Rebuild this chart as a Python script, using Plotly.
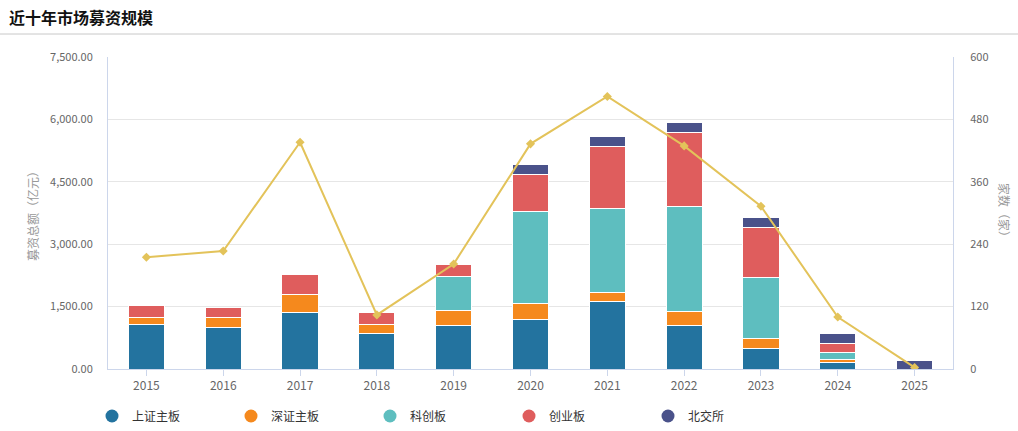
import plotly.graph_objects as go

years = ["2015", "2016", "2017", "2018", "2019", "2020", "2021", "2022", "2023", "2024", "2025"]
sh_main = [1075, 1000, 1360, 860, 1050, 1194, 1627, 1050, 497, 151, None]
sz_main = [168, 240, 420, 215, 360, 385, 224, 344, 241, 82, None]
star = [None, None, None, None, 825, 2212, 2012, 2517, 1450, 168, None]
chinext = [272, 230, 490, 280, 270, 880, 1490, 1779, 1218, 216, None]
bse = [None, None, None, None, None, 233, 232, 231, 231, 232, 216]
counts = [215, 227, 436, 104, 202, 433, 524, 429, 313, 100, 3]

names = ["上证主板", "深证主板", "科创板", "创业板", "北交所"]
colors = ["#23739f", "#f5891d", "#5ebebf", "#df5d5d", "#4a528a"]
series = [sh_main, sz_main, star, chinext, bse]
left_ticks = [0, 1500, 3000, 4500, 6000, 7500]
right_ticks = [0, 120, 240, 360, 480, 600]

FONT = "Noto Sans CJK SC, Microsoft YaHei, sans-serif"

fig = go.Figure()
for n, c, s in zip(names, colors, series):
    fig.add_trace(go.Bar(x=years, y=s, name=n, marker=dict(color=c, line=dict(color="white", width=1)),
                         showlegend=False))
fig.add_trace(go.Scatter(x=years, y=counts, yaxis="y2", mode="lines+markers", name="家数",
                         line=dict(color="#e3c35a", width=2),
                         marker=dict(symbol="diamond", size=7, color="#e3c35a"), showlegend=False))
for n, c in zip(names, colors):
    fig.add_trace(go.Scatter(x=[None], y=[None], mode="markers", name=n,
                             marker=dict(symbol="circle", size=13, color=c), showlegend=True))

grid = "#e6e6e6"
axis = "#ccd6eb"
fig.update_layout(
    width=1018, height=431,
    margin=dict(l=108, r=65, t=57, b=62, autoexpand=False),
    barmode="stack", bargap=0.53,
    plot_bgcolor="white", paper_bgcolor="white",
    font=dict(family=FONT, size=12, color="#666666"),
    xaxis=dict(type="category", range=[-0.5, len(years) - 0.5], showline=True, linecolor=axis, linewidth=1,
               ticks="outside", ticklen=6, tickcolor=axis, tickfont=dict(size=12, color="#666666"),
               showgrid=False),
    yaxis=dict(range=[0, 7500], tickvals=left_ticks, tickformat=",.2f",
               showgrid=True, gridcolor=grid, gridwidth=1, zeroline=False,
               showline=True, linecolor=axis, linewidth=1, ticks="", ticklabelstandoff=12,
               tickfont=dict(size=11, color="#666666")),
    yaxis2=dict(range=[0, 600], tickvals=right_ticks, overlaying="y", side="right",
                showgrid=False, zeroline=False, showline=True, linecolor=axis, linewidth=1,
                ticks="", ticklabelstandoff=14, tickfont=dict(size=11, color="#666666")),
    legend=dict(orientation="h", traceorder="normal", x=(92-108)/845, xanchor="left",
                y=(369-416)/312, yanchor="middle",
                entrywidth=94, entrywidthmode="pixels", font=dict(size=12, color="#333333"),
                itemclick=False, tracegroupgap=0),
    showlegend=True,
)
fig.add_annotation(text="<b>近十年市场募资规模</b>", xref="paper", yref="paper",
                   x=-108/845 + 7/845, y=(369-17)/312, xanchor="left", yanchor="middle",
                   showarrow=False, font=dict(size=16, color="#111111", family=FONT))
fig.add_shape(type="line", xref="paper", yref="paper", x0=-108/845, x1=(1018-108)/845,
              y0=(369-34)/312, y1=(369-34)/312, line=dict(color="#c8c8c8", width=1))
fig.add_annotation(text="募资总额（亿元）", xref="paper", yref="paper", x=(32-108)/845, y=0.5,
                   xanchor="center", yanchor="middle",
                   textangle=-90, showarrow=False, font=dict(size=12, color="#999999"))
fig.add_annotation(text="家数（家）", xref="paper", yref="paper", x=(1005-108)/845, y=0.5,
                   xanchor="center", yanchor="middle",
                   textangle=90, showarrow=False, font=dict(size=12, color="#999999"))

fig.write_html("out.html")
